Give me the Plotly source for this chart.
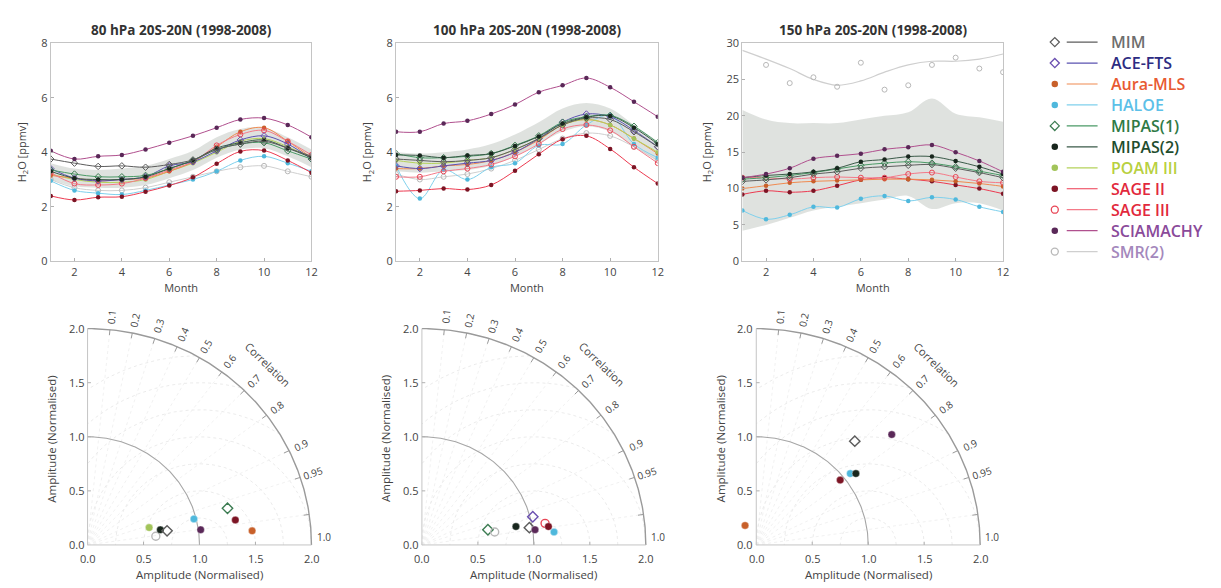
import numpy as np
import plotly.graph_objects as go

W, H = 1221, 588
months = list(range(1, 13))

instruments = ["MIM", "ACE-FTS", "Aura-MLS", "HALOE", "MIPAS(1)", "MIPAS(2)",
               "POAM III", "SAGE II", "SAGE III", "SCIAMACHY", "SMR(2)"]

# ---- monthly mean H2O [ppmv], 20S-20N, 1998-2008 ----
h2o_80 = {
    "SMR(2)":    [3.00, 2.70, 2.60, 2.60, 2.70, 2.90, 3.10, 3.30, 3.45, 3.50, 3.30, 3.10],
    "HALOE":     [2.95, 2.60, 2.50, 2.45, 2.60, 2.80, 3.00, 3.30, 3.70, 3.85, 3.60, 3.30],
    "SAGE II":   [2.40, 2.25, 2.35, 2.37, 2.55, 2.78, 3.08, 3.58, 4.03, 4.06, 3.70, 3.25],
    "POAM III":  [3.20, 3.00, 2.90, 2.90, 3.00, 3.30, 3.60, 4.00, 4.40, 4.50, 4.20, 3.80],
    "Aura-MLS":  [3.15, 3.05, 2.95, 3.00, 3.05, 3.30, 3.65, 4.20, 4.75, 4.90, 4.40, 3.80],
    "SAGE III":  [3.25, 2.85, 2.80, 2.85, 3.05, 3.35, 3.65, 4.25, 4.65, 4.80, 4.40, 3.90],
    "ACE-FTS":   [3.40, 3.05, 2.95, 3.00, 3.10, 3.50, 3.65, 4.05, 4.45, 4.60, 4.30, 3.75],
    "MIPAS(1)":  [3.35, 3.20, 3.10, 3.10, 3.15, 3.40, 3.70, 4.10, 4.30, 4.35, 4.05, 3.75],
    "MIPAS(2)":  [3.30, 3.05, 3.00, 3.00, 3.10, 3.40, 3.70, 4.15, 4.35, 4.45, 4.15, 3.80],
    "MIM":       [3.75, 3.60, 3.48, 3.50, 3.45, 3.55, 3.72, 4.10, 4.30, 4.40, 4.15, 3.85],
    "SCIAMACHY": [4.05, 3.75, 3.85, 3.90, 4.10, 4.35, 4.60, 4.90, 5.20, 5.25, 5.00, 4.55],
}
band_80_lo = [3.00, 2.75, 2.70, 2.70, 2.80, 3.05, 3.35, 3.80, 4.10, 4.15, 3.85, 3.45]
band_80_hi = [3.60, 3.40, 3.35, 3.40, 3.50, 3.75, 4.05, 4.55, 4.85, 4.90, 4.55, 4.10]

h2o_100 = {
    "SMR(2)":    [3.20, 3.00, 3.10, 3.20, 3.40, 3.70, 4.10, 4.50, 4.70, 4.60, 4.20, 3.70],
    "HALOE":     [3.50, 2.30, 3.35, 3.00, 3.45, 3.60, 4.25, 4.30, 5.00, 5.35, 4.30, 3.80],
    "SAGE II":   [2.57, 2.60, 2.67, 2.63, 2.80, 3.32, 3.93, 4.48, 4.60, 4.12, 3.45, 2.85],
    "SAGE III":  [3.10, 3.10, 3.30, 3.40, 3.55, 3.85, 4.30, 4.85, 5.00, 4.80, 4.20, 3.60],
    "Aura-MLS":  [3.40, 3.40, 3.50, 3.55, 3.70, 4.00, 4.45, 5.00, 5.20, 5.00, 4.50, 3.95],
    "POAM III":  [3.70, 3.60, 3.60, 3.70, 3.80, 4.10, 4.50, 5.00, 5.20, 5.00, 4.50, 4.00],
    "ACE-FTS":   [3.50, 3.40, 3.50, 3.60, 3.70, 4.00, 4.50, 5.10, 5.40, 5.30, 4.80, 4.20],
    "MIM":       [3.75, 3.70, 3.65, 3.70, 3.80, 4.10, 4.50, 5.00, 5.25, 5.20, 4.75, 4.20],
    "MIPAS(1)":  [3.95, 3.80, 3.80, 3.85, 3.95, 4.25, 4.60, 5.10, 5.30, 5.35, 4.95, 4.35],
    "MIPAS(2)":  [3.90, 3.88, 3.80, 3.88, 3.95, 4.23, 4.58, 5.05, 5.28, 5.33, 4.90, 4.30],
    "SCIAMACHY": [4.75, 4.75, 5.05, 5.15, 5.40, 5.75, 6.20, 6.45, 6.72, 6.38, 5.85, 5.30],
}
band_100_lo = [3.30, 3.25, 3.30, 3.35, 3.50, 3.85, 4.30, 4.75, 4.95, 4.75, 4.20, 3.65]
band_100_hi = [4.00, 3.95, 4.00, 4.10, 4.30, 4.65, 5.10, 5.60, 5.80, 5.60, 5.00, 4.40]

h2o_150 = {
    "SMR(2)":    [None, 27.0, 24.5, 25.3, 24.0, 27.3, 23.6, 24.2, 27.0, 28.0, 26.5, 26.0],
    "HALOE":     [7.0, 5.8, 6.4, 7.5, 7.4, 8.6, 9.0, 8.3, 8.8, 8.5, 7.5, 6.8],
    "SAGE II":   [9.2, 9.7, 9.5, 9.7, 10.4, 11.2, 11.5, 11.3, 11.0, 10.5, 10.0, 9.3],
    "Aura-MLS":  [10.0, 10.4, 10.8, 11.0, 11.1, 11.2, 11.3, 11.3, 11.2, 11.0, 10.7, 10.3],
    "SAGE III":  [11.5, 11.5, 11.3, 11.5, 11.6, 11.5, 11.5, 12.0, 12.2, 11.6, 11.0, 10.8],
    "MIM":       [11.0, 11.2, 11.5, 12.0, 12.3, 12.8, 13.0, 13.2, 13.3, 12.8, 12.2, 11.5],
    "MIPAS(1)":  [11.3, 11.5, 11.8, 12.2, 12.7, 13.2, 13.5, 13.7, 13.5, 13.0, 12.4, 11.8],
    "MIPAS(2)":  [11.5, 11.8, 12.0, 12.3, 12.8, 13.7, 14.0, 14.4, 14.4, 13.8, 13.0, 12.0],
    "SCIAMACHY": [11.5, 12.0, 12.8, 14.1, 14.5, 14.8, 15.4, 15.7, 16.0, 15.0, 13.8, 12.3],
}
smr_fit_150 = [29.0, 27.8, 26.5, 25.0, 24.2, 24.8, 26.0, 27.0, 27.5, 27.5, 27.8, 28.5]
band_150_lo = [4.2, 5.0, 6.0, 7.0, 7.5, 8.0, 8.5, 9.0, 7.2, 8.0, 8.0, 7.0]
band_150_hi = [20.8, 19.5, 19.0, 19.0, 19.0, 19.5, 20.0, 20.5, 22.4, 20.3, 19.8, 19.2]

# ---- Taylor statistics: normalised amplitude and correlation ----
taylor_80_names = ["POAM III", "SMR(2)", "MIPAS(2)", "MIM", "HALOE", "SCIAMACHY",
                   "MIPAS(1)", "SAGE II", "Aura-MLS"]
taylor_80_amp = [0.573, 0.615, 0.665, 0.722, 0.980, 1.020, 1.295, 1.340, 1.476]
taylor_80_corr = [0.960, 0.9915, 0.9776, 0.9836, 0.9695, 0.9905, 0.9652, 0.9851, 0.9961]

taylor_100_names = ["MIPAS(1)", "SMR(2)", "MIPAS(2)", "MIM", "ACE-FTS", "SCIAMACHY",
                    "HALOE", "SAGE III", "SAGE II"]
taylor_100_amp = [0.606, 0.661, 0.857, 0.973, 1.024, 1.020, 1.186, 1.118, 1.143]
taylor_100_corr = [0.9730, 0.9834, 0.9801, 0.9864, 0.9672, 0.9905, 0.9949, 0.9839, 0.9889]

taylor_150_names = ["Aura-MLS", "SAGE II", "HALOE", "MIPAS(2)", "MIM", "SCIAMACHY"]
taylor_150_amp = [0.206, 0.960, 1.068, 1.108, 1.302, 1.583]
taylor_150_corr = [-0.486, 0.7809, 0.7864, 0.8032, 0.6758, 0.7645]

corr_ticks = [0.1, 0.2, 0.3, 0.4, 0.5, 0.6, 0.7, 0.8, 0.9, 0.95]
amp_ticks = [0.0, 0.5, 1.0, 1.5, 2.0]

# ---- styles ----
style = {
    "MIM":       dict(line="#5c5c5c", marker="#5c5c5c", symbol="diamond-open", text="#6e6e6e"),
    "ACE-FTS":   dict(line="#5a52b0", marker="#6a4fb0", symbol="diamond-open", text="#2c2c82"),
    "Aura-MLS":  dict(line="#f08a50", marker="#c8602a", symbol="circle", text="#e85a32"),
    "HALOE":     dict(line="#7fd0ec", marker="#4fb8dc", symbol="circle", text="#5cc0e8"),
    "MIPAS(1)":  dict(line="#4a9a66", marker="#3c7c52", symbol="diamond-open", text="#2f7a45"),
    "MIPAS(2)":  dict(line="#3a5a48", marker="#18261d", symbol="circle", text="#1f4d2e"),
    "POAM III":  dict(line="#b4d25a", marker="#a2c45a", symbol="circle", text="#b8d040"),
    "SAGE II":   dict(line="#ec3a50", marker="#7c1424", symbol="circle", text="#e2283c"),
    "SAGE III":  dict(line="#f47a88", marker="#e84656", symbol="circle-open", text="#e2283c"),
    "SCIAMACHY": dict(line="#b0508e", marker="#5a2858", symbol="circle", text="#8a4a9a"),
    "SMR(2)":    dict(line="#cfcfcf", marker="#b8b8b8", symbol="circle-open", text="#a488bc"),
}
BAND = "rgba(196,202,196,0.55)"
FONT = "Open Sans"
AX_TXT = "#444444"


def px_y(p):
    return 1 - p / H


fig = go.Figure()

# ---- top row: seasonal cycles ----
top_panels = [
    ("80 hPa 20S-20N (1998-2008)", h2o_80, band_80_lo, band_80_hi, "x", "y", (51, 313), [0, 8], [0, 2, 4, 6, 8]),
    ("100 hPa 20S-20N (1998-2008)", h2o_100, band_100_lo, band_100_hi, "x2", "y2", (398, 661), [0, 8], [0, 2, 4, 6, 8]),
    ("150 hPa 20S-20N (1998-2008)", h2o_150, band_150_lo, band_150_hi, "x3", "y3", (746, 1008), [0, 30], [0, 5, 10, 15, 20, 25, 30]),
]
TOP_Y = (36, 260)

for k, (title, data, lo, hi, xa, ya, (x0, x1), yr, yt) in enumerate(top_panels, start=1):
    fig.add_trace(go.Scatter(x=months, y=lo, mode="lines", line=dict(width=0, shape="spline"),
                             xaxis=xa, yaxis=ya, showlegend=False, hoverinfo="skip"))
    fig.add_trace(go.Scatter(x=months, y=hi, mode="lines", line=dict(width=0, shape="spline"),
                             fill="tonexty", fillcolor=BAND,
                             xaxis=xa, yaxis=ya, showlegend=False, hoverinfo="skip"))
    if data is h2o_150:
        st = style["SMR(2)"]
        fig.add_trace(go.Scatter(x=months, y=smr_fit_150, mode="lines",
                                 line=dict(color=st["line"], width=1.2, shape="spline"),
                                 xaxis=xa, yaxis=ya, showlegend=False, hoverinfo="skip"))
    for name, vals in data.items():
        st = style[name]
        mode = "markers" if (data is h2o_150 and name == "SMR(2)") else "lines+markers"
        open_sym = st["symbol"].endswith("open")
        fig.add_trace(go.Scatter(
            x=months, y=vals, mode=mode, name=name,
            line=dict(color=st["line"], width=1.0, shape="spline", smoothing=1),
            marker=dict(symbol=st["symbol"], color=st["marker"], size=5 if open_sym else 4.5,
                        line=dict(width=1 if open_sym else 0, color=st["marker"])),
            xaxis=xa, yaxis=ya, showlegend=False))

    sfx = "" if k == 1 else str(k)
    fig.layout["xaxis" + sfx] = dict(
        domain=[x0 / W, x1 / W], anchor=ya, range=[1, 12], tickvals=[2, 4, 6, 8, 10, 12],
        showline=True, mirror=True, linecolor="#c4c4c4", linewidth=1,
        ticks="inside", ticklen=3, tickcolor="#b0b0b0", showgrid=False, zeroline=False,
        tickfont=dict(family=FONT, size=11, color=AX_TXT),
        title=dict(text="Month", font=dict(family=FONT, size=11, color=AX_TXT), standoff=6))
    fig.layout["yaxis" + sfx] = dict(
        domain=[px_y(TOP_Y[1]), px_y(TOP_Y[0])], anchor=xa, range=yr, tickvals=yt,
        showline=True, mirror=True, linecolor="#c4c4c4", linewidth=1,
        ticks="inside", ticklen=3, tickcolor="#b0b0b0", showgrid=False, zeroline=False,
        tickfont=dict(family=FONT, size=11, color=AX_TXT),
        title=dict(text="H<sub>2</sub>O [ppmv]", font=dict(family=FONT, size=11, color=AX_TXT), standoff=12))
    fig.add_annotation(text="<b>%s</b>" % title, xref="paper", yref="paper",
                       x=(x0 + x1) / 2 / W, y=px_y(23), xanchor="center", yanchor="middle",
                       showarrow=False, font=dict(family=FONT, size=13.5, color="#333333"))

# ---- bottom row: Taylor diagrams ----
SX, SY = 112.5, 111.0
ORIGIN_Y = 551
XR, YR = [-0.3, 2.5], [-0.1, 2.45]
taylor_panels = [
    (taylor_80_names, taylor_80_amp, taylor_80_corr, 4, 88),
    (taylor_100_names, taylor_100_amp, taylor_100_corr, 5, 424),
    (taylor_150_names, taylor_150_amp, taylor_150_corr, 6, 760),
]
quarter = np.linspace(0, np.pi / 2, 160)
half = np.linspace(0, np.pi, 400)
grid_kw = dict(mode="lines", showlegend=False, hoverinfo="skip")
label_kw = dict(showarrow=False, xanchor="center", yanchor="middle")

for names, amp, corr, k, ox in taylor_panels:
    xa, ya = "x%d" % k, "y%d" % k
    # centred RMS-difference circles around the reference point
    for rr in [0.25, 0.5, 0.75, 1.0, 1.25, 1.5, 1.75]:
        cx = 1 + rr * np.cos(half)
        cy = rr * np.sin(half)
        keep = (np.hypot(cx, cy) <= 2.0) & (cx >= 0)
        fig.add_trace(go.Scatter(x=np.where(keep, cx, np.nan), y=np.where(keep, cy, np.nan),
                                 line=dict(color="#e6e6e6", width=0.8, dash="dot"),
                                 xaxis=xa, yaxis=ya, **grid_kw))
    # correlation rays
    for c in corr_ticks + [0.99]:
        th = np.arccos(c)
        fig.add_trace(go.Scatter(x=[0, 2 * np.cos(th)], y=[0, 2 * np.sin(th)],
                                 line=dict(color="#eeeeee", width=0.8, dash="dot"),
                                 xaxis=xa, yaxis=ya, **grid_kw))
        fig.add_trace(go.Scatter(x=[1.95 * np.cos(th), 2 * np.cos(th)], y=[1.95 * np.sin(th), 2 * np.sin(th)],
                                 line=dict(color="#9a9a9a", width=1), xaxis=xa, yaxis=ya, **grid_kw))
    # amplitude arcs
    fig.add_trace(go.Scatter(x=np.cos(quarter), y=np.sin(quarter),
                             line=dict(color="#a6a6a6", width=1.1), xaxis=xa, yaxis=ya, **grid_kw))
    fig.add_trace(go.Scatter(x=2 * np.cos(quarter), y=2 * np.sin(quarter),
                             line=dict(color="#9a9a9a", width=1.4), xaxis=xa, yaxis=ya, **grid_kw))
    # axes
    fig.add_trace(go.Scatter(x=[0, 0, 2], y=[2, 0, 0], line=dict(color="#c4c4c4", width=1),
                             xaxis=xa, yaxis=ya, **grid_kw))
    for v in amp_ticks[1:-1]:
        fig.add_trace(go.Scatter(x=[0, 0.03], y=[v, v], line=dict(color="#b0b0b0", width=1),
                                 xaxis=xa, yaxis=ya, **grid_kw))
        fig.add_trace(go.Scatter(x=[v, v], y=[0, 0.03], line=dict(color="#b0b0b0", width=1),
                                 xaxis=xa, yaxis=ya, **grid_kw))

    # statistics points
    amp_a = np.array(amp)
    corr_a = np.array(corr)
    px = amp_a * corr_a
    py = amp_a * np.sqrt(1 - corr_a ** 2)
    for n, xv, yv in zip(names, px, py):
        st = style[n]
        open_sym = st["symbol"].endswith("open")
        fig.add_trace(go.Scatter(
            x=[xv], y=[yv], mode="markers", name=n, showlegend=False, cliponaxis=False,
            marker=dict(symbol=st["symbol"], color=st["marker"], size=8 if open_sym else 7.5,
                        line=dict(width=1.4 if open_sym else 0.6,
                                  color=st["marker"] if open_sym else "rgba(255,255,255,0.6)")),
            xaxis=xa, yaxis=ya))

    # tick labels
    for v in amp_ticks:
        fig.add_annotation(text="%.1f" % v, xref=xa, yref=ya, x=0, y=v, xanchor="right",
                           yanchor="middle", xshift=-2, showarrow=False,
                           font=dict(family=FONT, size=11, color=AX_TXT))
        fig.add_annotation(text="%.1f" % v, xref=xa, yref=ya, x=v, y=0, xanchor="center",
                           yanchor="top", yshift=-4, showarrow=False,
                           font=dict(family=FONT, size=11, color=AX_TXT))
    for c in corr_ticks:
        th = np.arccos(c)
        fig.add_annotation(text="%g" % c, xref=xa, yref=ya, x=2.12 * np.cos(th), y=2.12 * np.sin(th),
                           textangle=-np.degrees(th), font=dict(family=FONT, size=10, color="#444444"),
                           **label_kw)
    fig.add_annotation(text="1.0", xref=xa, yref=ya, x=2.11, y=0.07,
                       font=dict(family=FONT, size=10, color="#444444"), **label_kw)
    thc = np.radians(46)
    fig.add_annotation(text="Correlation", xref=xa, yref=ya, x=2.32 * np.cos(thc), y=2.32 * np.sin(thc),
                       textangle=90 - 46, font=dict(family=FONT, size=11, color="#444444"), **label_kw)
    # axis titles
    fig.add_annotation(text="Amplitude (Normalised)", xref="paper", yref="paper",
                       x=(ox + SX) / W, y=px_y(581),
                       font=dict(family=FONT, size=11.5, color=AX_TXT), **label_kw)
    fig.add_annotation(text="Amplitude (Normalised)", xref="paper", yref="paper",
                       x=(ox - 36) / W, y=px_y(ORIGIN_Y - SY * 0.98), textangle=-90,
                       font=dict(family=FONT, size=11.5, color=AX_TXT), **label_kw)

    hidden = dict(visible=False, showgrid=False, zeroline=False, fixedrange=True)
    fig.layout["xaxis%d" % k] = dict(domain=[(ox + XR[0] * SX) / W, (ox + XR[1] * SX) / W],
                                     range=XR, anchor=ya, **hidden)
    fig.layout["yaxis%d" % k] = dict(domain=[px_y(ORIGIN_Y - YR[0] * SY), px_y(ORIGIN_Y - YR[1] * SY)],
                                     range=YR, anchor=xa, **hidden)

# ---- legend ----
LX = (1040, 1221)
ROW0, ROWSTEP = 35.0, 21.5
for i, name in enumerate(instruments):
    st = style[name]
    open_sym = st["symbol"].endswith("open")
    fig.add_trace(go.Scatter(x=[1072, 1103], y=[i, i], mode="lines",
                             line=dict(color=st["line"], width=1.2),
                             xaxis="x7", yaxis="y7", showlegend=False, hoverinfo="skip"))
    fig.add_trace(go.Scatter(x=[1060], y=[i], mode="markers",
                             marker=dict(symbol=st["symbol"], color=st["marker"], size=7 if open_sym else 6.5,
                                         line=dict(width=1.3 if open_sym else 0, color=st["marker"])),
                             xaxis="x7", yaxis="y7", showlegend=False, hoverinfo="skip"))
    fig.add_annotation(text=name, xref="x7", yref="y7", x=1114, y=i, xanchor="left", yanchor="middle",
                       showarrow=False, font=dict(family=FONT, size=16, color=st["text"], weight=600))
fig.layout["xaxis7"] = dict(domain=[LX[0] / W, LX[1] / W], range=list(LX), anchor="y7",
                            visible=False, fixedrange=True)
fig.layout["yaxis7"] = dict(domain=[px_y(ROW0 + 10.5 * ROWSTEP), px_y(ROW0 - 0.5 * ROWSTEP)],
                            range=[10.5, -0.5], anchor="x7", visible=False, fixedrange=True)

fig.update_layout(width=W, height=H, margin=dict(l=0, r=0, t=0, b=0),
                  paper_bgcolor="white", plot_bgcolor="white", showlegend=False,
                  font=dict(family=FONT, color=AX_TXT))
fig.write_html("out.html")
